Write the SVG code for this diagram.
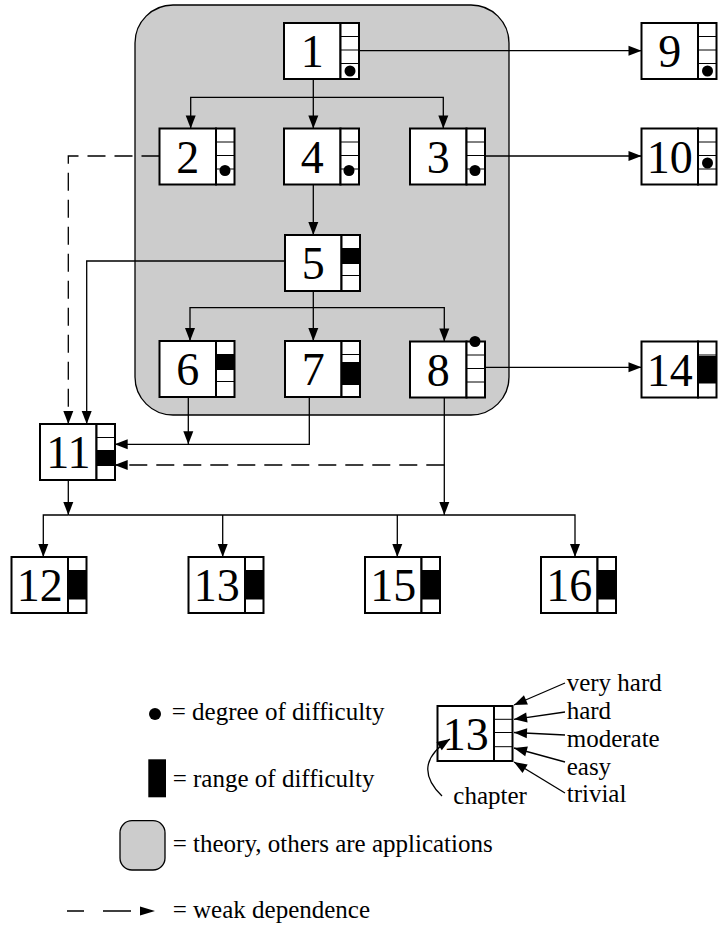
<svg xmlns="http://www.w3.org/2000/svg" width="720" height="928" viewBox="0 0 720 928">
<rect id="theory-region" x="135" y="5" width="374" height="410" rx="38" ry="38" fill="#cccccc" stroke="#000" stroke-width="1.3"/>

<g id="connectors">
<g fill="none" stroke="#000" stroke-width="1.3">
<path d="M313.3,79 V128.5"/>
<path d="M313.3,97.3 H190.7 V128.5"/>
<path d="M313.3,97.3 H443.3 V128.5"/>
<path d="M359,50.7 H641.5"/>
<path d="M484.5,156 H641.5"/>
<path d="M313.3,184.5 V235"/>
<path d="M313.3,291 V341"/>
<path d="M313.3,307.7 H190 V341"/>
<path d="M313.3,307.7 H444.3 V341.5"/>
<path d="M285,261 H86.7 V424"/>
<path d="M159.5,156 H68.3 V424" stroke-dasharray="18 9"/>
<path d="M188.3,397 V444.3"/>
<path d="M309.3,397 V444.3 H114.7"/>
<path d="M485,367.3 H641.5"/>
<path d="M444.3,397.5 V515"/>
<path d="M444.3,465 H114.7" stroke-dasharray="18 9"/>
<path d="M68.3,480 V515"/>
<path d="M68.3,515 H43.3 V557"/>
<path d="M68.3,515 H575 V557"/>
<path d="M222.7,515 V557"/>
<path d="M397.3,515 V557"/>
</g>
<g fill="#000">
<path d="M308.3,115.5 L318.3,115.5 L313.3,128.5 z"/>
<path d="M185.7,115.5 L195.7,115.5 L190.7,128.5 z"/>
<path d="M438.3,115.5 L448.3,115.5 L443.3,128.5 z"/>
<path d="M628.5,45.7 L628.5,55.7 L641.5,50.7 z"/>
<path d="M628.5,151 L628.5,161 L641.5,156 z"/>
<path d="M308.3,222 L318.3,222 L313.3,235 z"/>
<path d="M308.3,328 L318.3,328 L313.3,341 z"/>
<path d="M185,328 L195,328 L190,341 z"/>
<path d="M439.3,328.5 L449.3,328.5 L444.3,341.5 z"/>
<path d="M81.7,411 L91.7,411 L86.7,424 z"/>
<path d="M63.3,411 L73.3,411 L68.3,424 z"/>
<path d="M183.3,431.3 L193.3,431.3 L188.3,444.3 z"/>
<path d="M127.7,439.3 L127.7,449.3 L114.7,444.3 z"/>
<path d="M628.5,362.3 L628.5,372.3 L641.5,367.3 z"/>
<path d="M439.3,502 L449.3,502 L444.3,515 z"/>
<path d="M127.7,460 L127.7,470 L114.7,465 z"/>
<path d="M63.3,502 L73.3,502 L68.3,515 z"/>
<path d="M38.3,544 L48.3,544 L43.3,557 z"/>
<path d="M570,544 L580,544 L575,557 z"/>
<path d="M217.7,544 L227.7,544 L222.7,557 z"/>
<path d="M392.3,544 L402.3,544 L397.3,557 z"/>
</g>
</g>

<g id="node1">
<rect x="284" y="23" width="56.5" height="56" fill="#fff" stroke="#000" stroke-width="2"/>
<rect x="340.5" y="23" width="18.5" height="56" fill="#fff" stroke="#000" stroke-width="2"/>
<path d="M340.5,36.5 H359 M340.5,50 H359 M340.5,63.5 H359" stroke="#000" stroke-width="1"/>
<circle cx="350" cy="71" r="5.5"/>
<text x="312.3" y="67" font-size="46" text-anchor="middle" font-family="Liberation Serif">1</text>
</g>
<g id="node9">
<rect x="641.5" y="23" width="56.5" height="56" fill="#fff" stroke="#000" stroke-width="2"/>
<rect x="698" y="23" width="18.5" height="56" fill="#fff" stroke="#000" stroke-width="2"/>
<path d="M698,36.5 H716.5 M698,50 H716.5 M698,63.5 H716.5" stroke="#000" stroke-width="1"/>
<circle cx="707.5" cy="71" r="5.5"/>
<text x="669.8" y="67" font-size="46" text-anchor="middle" font-family="Liberation Serif">9</text>
</g>
<g id="node2">
<rect x="159.5" y="128.5" width="56.5" height="56" fill="#fff" stroke="#000" stroke-width="2"/>
<rect x="216" y="128.5" width="18.5" height="56" fill="#fff" stroke="#000" stroke-width="2"/>
<path d="M216,142 H234.5 M216,155.5 H234.5 M216,169 H234.5" stroke="#000" stroke-width="1"/>
<circle cx="225" cy="170.5" r="5.5"/>
<text x="187.8" y="172.5" font-size="46" text-anchor="middle" font-family="Liberation Serif">2</text>
</g>
<g id="node4">
<rect x="284" y="128.5" width="56.5" height="56" fill="#fff" stroke="#000" stroke-width="2"/>
<rect x="340.5" y="128.5" width="18.5" height="56" fill="#fff" stroke="#000" stroke-width="2"/>
<path d="M340.5,142 H359 M340.5,155.5 H359 M340.5,169 H359" stroke="#000" stroke-width="1"/>
<circle cx="349" cy="170.5" r="5.5"/>
<text x="312.3" y="172.5" font-size="46" text-anchor="middle" font-family="Liberation Serif">4</text>
</g>
<g id="node3">
<rect x="410" y="128.5" width="56.5" height="56" fill="#fff" stroke="#000" stroke-width="2"/>
<rect x="466.5" y="128.5" width="18.5" height="56" fill="#fff" stroke="#000" stroke-width="2"/>
<path d="M466.5,142 H485 M466.5,155.5 H485 M466.5,169 H485" stroke="#000" stroke-width="1"/>
<circle cx="475" cy="170.5" r="5.5"/>
<text x="438.3" y="172.5" font-size="46" text-anchor="middle" font-family="Liberation Serif">3</text>
</g>
<g id="node10">
<rect x="641.5" y="128.5" width="56.5" height="56" fill="#fff" stroke="#000" stroke-width="2"/>
<rect x="698" y="128.5" width="18.5" height="56" fill="#fff" stroke="#000" stroke-width="2"/>
<path d="M698,142 H716.5 M698,155.5 H716.5 M698,169 H716.5" stroke="#000" stroke-width="1"/>
<circle cx="707.5" cy="163" r="5.5"/>
<text x="669.8" y="172.5" font-size="46" text-anchor="middle" font-family="Liberation Serif">10</text>
</g>
<g id="node5">
<rect x="285" y="235" width="56.5" height="56" fill="#fff" stroke="#000" stroke-width="2"/>
<rect x="341.5" y="235" width="18.5" height="56" fill="#fff" stroke="#000" stroke-width="2"/>
<path d="M341.5,248.5 H360 M341.5,262 H360 M341.5,275.5 H360" stroke="#000" stroke-width="1"/>
<rect x="341.5" y="249" width="18.5" height="15" fill="#000"/>
<text x="313.3" y="279" font-size="46" text-anchor="middle" font-family="Liberation Serif">5</text>
</g>
<g id="node6">
<rect x="159.5" y="341" width="56.5" height="56" fill="#fff" stroke="#000" stroke-width="2"/>
<rect x="216" y="341" width="18.5" height="56" fill="#fff" stroke="#000" stroke-width="2"/>
<path d="M216,354.5 H234.5 M216,368 H234.5 M216,381.5 H234.5" stroke="#000" stroke-width="1"/>
<rect x="216" y="355" width="18.5" height="15" fill="#000"/>
<text x="187.8" y="385" font-size="46" text-anchor="middle" font-family="Liberation Serif">6</text>
</g>
<g id="node7">
<rect x="285" y="341" width="56.5" height="56" fill="#fff" stroke="#000" stroke-width="2"/>
<rect x="341.5" y="341" width="18.5" height="56" fill="#fff" stroke="#000" stroke-width="2"/>
<path d="M341.5,354.5 H360 M341.5,368 H360 M341.5,381.5 H360" stroke="#000" stroke-width="1"/>
<rect x="341.5" y="362" width="18.5" height="23" fill="#000"/>
<text x="313.3" y="385" font-size="46" text-anchor="middle" font-family="Liberation Serif">7</text>
</g>
<g id="node8">
<rect x="410" y="341.5" width="56.5" height="56" fill="#fff" stroke="#000" stroke-width="2"/>
<rect x="466.5" y="341.5" width="18.5" height="56" fill="#fff" stroke="#000" stroke-width="2"/>
<path d="M466.5,355 H485 M466.5,368.5 H485 M466.5,382 H485" stroke="#000" stroke-width="1"/>
<circle cx="475" cy="341.5" r="5.5"/>
<text x="438.3" y="385.5" font-size="46" text-anchor="middle" font-family="Liberation Serif">8</text>
</g>
<g id="node14">
<rect x="641.5" y="341.5" width="56.5" height="56" fill="#fff" stroke="#000" stroke-width="2"/>
<rect x="698" y="341.5" width="18.5" height="56" fill="#fff" stroke="#000" stroke-width="2"/>
<path d="M698,355 H716.5 M698,368.5 H716.5 M698,382 H716.5" stroke="#000" stroke-width="1"/>
<rect x="698" y="356" width="18.5" height="27.5" fill="#000"/>
<text x="669.8" y="385.5" font-size="46" text-anchor="middle" font-family="Liberation Serif">14</text>
</g>
<g id="node11">
<rect x="40" y="424" width="56.5" height="56" fill="#fff" stroke="#000" stroke-width="2"/>
<rect x="96.5" y="424" width="18.5" height="56" fill="#fff" stroke="#000" stroke-width="2"/>
<path d="M96.5,437.5 H115 M96.5,451 H115 M96.5,464.5 H115" stroke="#000" stroke-width="1"/>
<rect x="96.5" y="450" width="18.5" height="16" fill="#000"/>
<text x="68.3" y="468" font-size="46" text-anchor="middle" font-family="Liberation Serif">11</text>
</g>
<g id="node12">
<rect x="11.5" y="557" width="56.5" height="56" fill="#fff" stroke="#000" stroke-width="2"/>
<rect x="68" y="557" width="18.5" height="56" fill="#fff" stroke="#000" stroke-width="2"/>
<path d="M68,570.5 H86.5 M68,584 H86.5 M68,597.5 H86.5" stroke="#000" stroke-width="1"/>
<rect x="68" y="570.5" width="18.5" height="29" fill="#000"/>
<text x="39.8" y="601" font-size="46" text-anchor="middle" font-family="Liberation Serif">12</text>
</g>
<g id="node13">
<rect x="188.5" y="557" width="56.5" height="56" fill="#fff" stroke="#000" stroke-width="2"/>
<rect x="245" y="557" width="18.5" height="56" fill="#fff" stroke="#000" stroke-width="2"/>
<path d="M245,570.5 H263.5 M245,584 H263.5 M245,597.5 H263.5" stroke="#000" stroke-width="1"/>
<rect x="245" y="570.5" width="18.5" height="29" fill="#000"/>
<text x="216.8" y="601" font-size="46" text-anchor="middle" font-family="Liberation Serif">13</text>
</g>
<g id="node15">
<rect x="365" y="557" width="56.5" height="56" fill="#fff" stroke="#000" stroke-width="2"/>
<rect x="421.5" y="557" width="18.5" height="56" fill="#fff" stroke="#000" stroke-width="2"/>
<path d="M421.5,570.5 H440 M421.5,584 H440 M421.5,597.5 H440" stroke="#000" stroke-width="1"/>
<rect x="421.5" y="570.5" width="18.5" height="29" fill="#000"/>
<text x="393.3" y="601" font-size="46" text-anchor="middle" font-family="Liberation Serif">15</text>
</g>
<g id="node16">
<rect x="541" y="557" width="56.5" height="56" fill="#fff" stroke="#000" stroke-width="2"/>
<rect x="597.5" y="557" width="18.5" height="56" fill="#fff" stroke="#000" stroke-width="2"/>
<path d="M597.5,570.5 H616 M597.5,584 H616 M597.5,597.5 H616" stroke="#000" stroke-width="1"/>
<rect x="597.5" y="570.5" width="18.5" height="29" fill="#000"/>
<text x="569.3" y="601" font-size="46" text-anchor="middle" font-family="Liberation Serif">16</text>
</g>

<g id="legend">
<circle cx="155" cy="714" r="6"/>
<text x="171.7" y="719.5" font-size="25" font-family="Liberation Serif">= degree of difficulty</text>
<rect x="148.3" y="759.3" width="17.7" height="38" fill="#000"/>
<text x="172.7" y="786.7" font-size="25" font-family="Liberation Serif">= range of difficulty</text>
<rect x="120" y="820.7" width="45" height="49.3" rx="12" ry="12" fill="#cccccc" stroke="#000" stroke-width="1.3"/>
<text x="172.7" y="852" font-size="25" font-family="Liberation Serif">= theory, others are applications</text>
<path d="M67,911 H84 M103,911 H131" fill="none" stroke="#000" stroke-width="1.3"/>
<path d="M140,906.5 L155,911 L140,915.5 z" fill="#000"/>
<text x="172.7" y="917.7" font-size="25" font-family="Liberation Serif">= weak dependence</text>
</g>

<g id="legend-node">
<rect x="437.5" y="706" width="56.5" height="55" fill="#fff" stroke="#000" stroke-width="2"/>
<rect x="494" y="706" width="18.5" height="55" fill="#fff" stroke="#000" stroke-width="2"/>
<path d="M494,719.3 H512.5 M494,732.5 H512.5 M494,746.7 H512.5" stroke="#000" stroke-width="1"/>
<text x="465.8" y="749.5" font-size="46" text-anchor="middle" font-family="Liberation Serif">13</text>
</g>
<g id="legend-labels">
<g fill="none" stroke="#000" stroke-width="1.3">
<path d="M565,683 L514,705"/>
<path d="M565,712 L514,719.3"/>
<path d="M565,735 L514,732.5"/>
<path d="M565,762 L514,748"/>
<path d="M565,793 L514,762"/>
<path d="M442,796 Q410,765 450,739"/>
</g>
<g fill="#000">
<path d="M514,705 L523.96,695.26 L527.92,704.44 z"/>
<path d="M514,719.3 L526.16,712.51 L527.58,722.41 z"/>
<path d="M514,732.5 L527.23,728.15 L526.74,738.13 z"/>
<path d="M514,748 L527.86,746.62 L525.22,756.26 z"/>
<path d="M514,762 L527.71,764.48 L522.51,773.02 z"/>
<path d="M450,739 L441.83,750.28 L436.37,741.9 z"/>
</g>
<text x="566.7" y="690.7" font-size="25" font-family="Liberation Serif">very hard</text>
<text x="566.7" y="719" font-size="25" font-family="Liberation Serif">hard</text>
<text x="566.7" y="747" font-size="25" font-family="Liberation Serif">moderate</text>
<text x="566.7" y="775" font-size="25" font-family="Liberation Serif">easy</text>
<text x="566.7" y="801.7" font-size="25" font-family="Liberation Serif">trivial</text>
<text x="453.3" y="804" font-size="25" font-family="Liberation Serif">chapter</text>
</g>
</svg>
